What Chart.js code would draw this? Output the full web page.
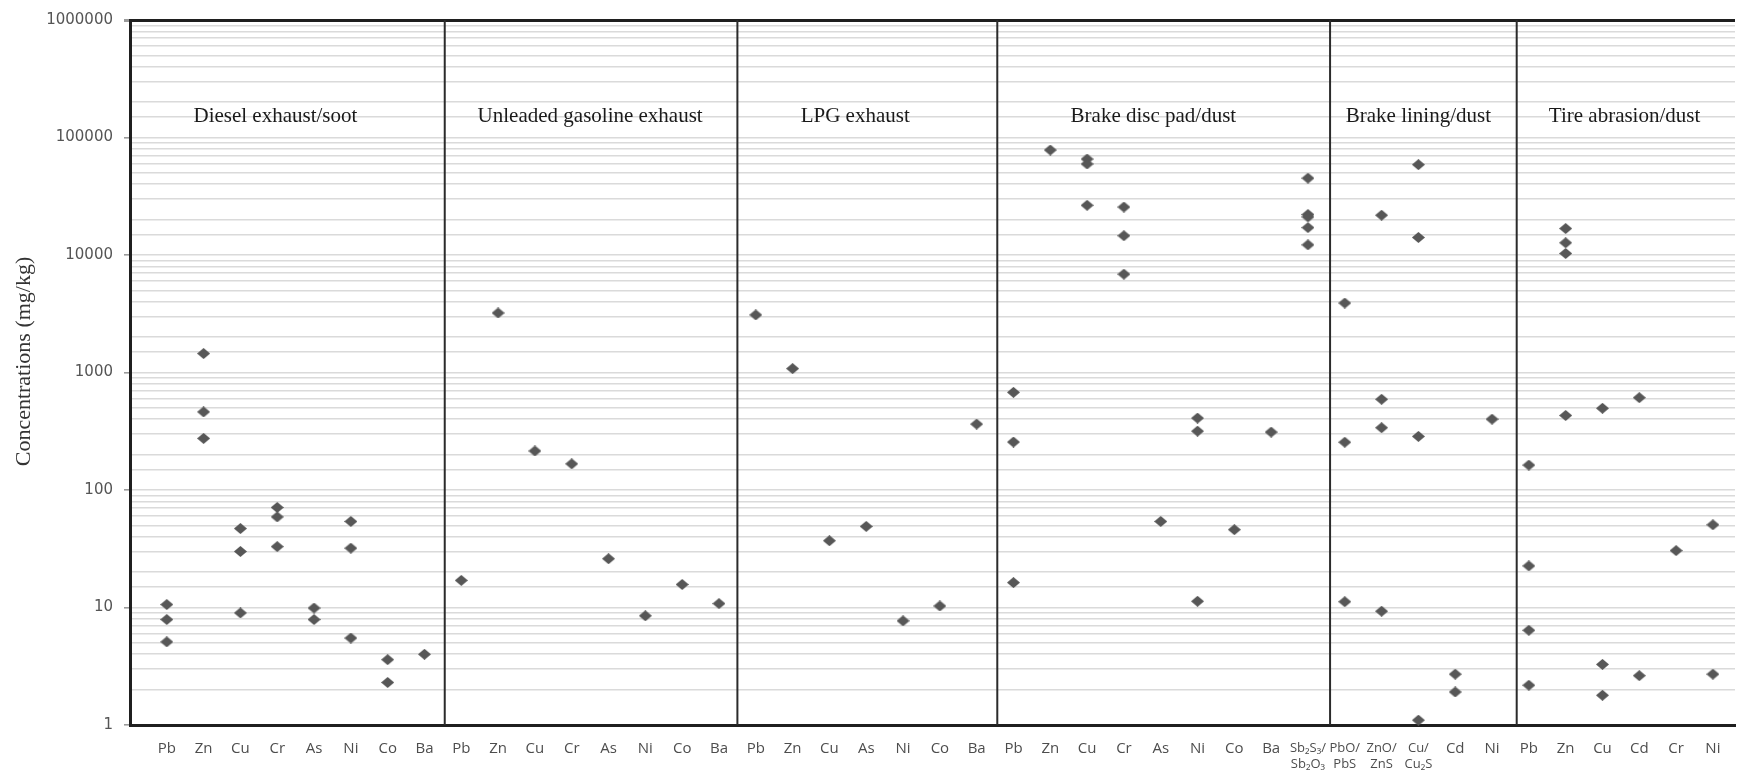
<!DOCTYPE html>
<html>
<head>
<meta charset="utf-8">
<script src="https://cdn.jsdelivr.net/npm/chart.js@4.4.1/dist/chart.umd.min.js"></script>
<style>
  html, body { margin: 0; padding: 0; background: #fff; }
  #wrap { width: 1742px; height: 771px; overflow: hidden; }
</style>
</head>
<body>
<div id="wrap"><canvas id="chartCanvas" width="1742" height="771"></canvas></div>
<script>
// group titles (drawn inside the plot)
const groupNames = ['Diesel exhaust/soot', 'Unleaded gasoline exhaust', 'LPG exhaust',
  'Brake disc pad/dust', 'Brake lining/dust', 'Tire abrasion/dust'];

// element labels + concentrations (mg/kg) per group
const dieselLabels = ['Pb', 'Zn', 'Cu', 'Cr', 'As', 'Ni', 'Co', 'Ba'];
const dieselValues = [[10.6, 7.9, 5.1], [1450, 462, 275], [47, 30, 9.0], [71, 59, 33],
  [9.9, 7.9], [54, 32, 5.5], [3.6, 2.3], [4.0]];

const unleadedLabels = ['Pb', 'Zn', 'Cu', 'Cr', 'As', 'Ni', 'Co', 'Ba'];
const unleadedValues = [[17], [3210], [215], [167], [26], [8.5], [15.7], [10.8]];

const lpgLabels = ['Pb', 'Zn', 'Cu', 'As', 'Ni', 'Co', 'Ba'];
const lpgValues = [[3090], [1080], [37], [49], [7.7], [10.3], [364]];

const brakeDiscLabels = ['Pb', 'Zn', 'Cu', 'Cr', 'As', 'Ni', 'Co', 'Ba', ['Sb₂S₃/', 'Sb₂O₃']];
const brakeDiscValues = [[678, 256, 16.3], [78200], [65600, 59500, 26500], [25600, 14600, 6870],
  [54], [409, 317, 11.3], [46], [311], [45100, 22100, 21100, 17100, 12200]];

const brakeLiningLabels = [['PbO/', 'PbS'], ['ZnO/', 'ZnS'], ['Cu/', 'Cu₂S'], 'Cd', 'Ni'];
const brakeLiningValues = [[3900, 255, 11.2], [21800, 592, 339, 9.3], [58700, 14100, 286, 1.1],
  [2.71, 1.91], [401]];

const tireLabels = ['Pb', 'Zn', 'Cu', 'Cd', 'Cr', 'Ni'];
const tireValues = [[163, 22.6, 6.4, 2.18], [16800, 12700, 10300, 431], [496, 3.28, 1.79],
  [611, 2.63], [30.5], [50.6, 2.71]];

const yTicks = [1, 10, 100, 1000, 10000, 100000, 1000000];

// ---- build from the arrays above ----
const groupLabels = [dieselLabels, unleadedLabels, lpgLabels, brakeDiscLabels, brakeLiningLabels, tireLabels];
const groupValues = [dieselValues, unleadedValues, lpgValues, brakeDiscValues, brakeLiningValues, tireValues];

const allLabels = groupLabels.flat(1);
const points = [];
const groupSpans = [];
let pos = 0;
groupValues.forEach(vals => {
  const start = pos + 1;
  vals.forEach(list => {
    pos++;
    list.forEach(v => points.push({ x: pos, y: v }));
  });
  groupSpans.push([start, pos]);
});

// divider lines sit a little past the half-way point in the figure
const sepNudge = [0.05, 0, 0.06, 0.1, 0.17];
const separators = groupSpans.slice(0, -1).map((s, i) => s[1] + 0.5 + sepNudge[i]);
// title anchors are nudged a bit like in the figure
const titleShift = [-0.55, 0, -0.3, -0.2, 0, 0.1];

// stretched diamond marker
const marker = document.createElement('canvas');
marker.width = 13; marker.height = 11;
(function () {
  const m = marker.getContext('2d');
  m.fillStyle = '#575757';
  m.beginPath();
  m.moveTo(6.5, 0); m.lineTo(13, 5.5); m.lineTo(6.5, 11); m.lineTo(0, 5.5);
  m.closePath(); m.fill();
})();

const datasets = [{
  data: points,
  pointStyle: marker,
  pointRadius: 6,
  clip: false,
  order: 0
}];
separators.forEach(s => datasets.push({
  data: [{ x: s, y: yTicks[0] }, { x: s, y: yTicks[yTicks.length - 1] }],
  showLine: true,
  borderColor: '#2b2b2b',
  borderWidth: 2,
  pointRadius: 0,
  order: 1
}));

const groupTitles = {
  id: 'groupTitles',
  afterDatasetsDraw(chart) {
    const { ctx, scales: { x, y } } = chart;
    ctx.save();
    ctx.font = '21px "Liberation Serif", "Times New Roman", serif';
    ctx.fillStyle = '#1a1a1a';
    ctx.textAlign = 'center';
    ctx.textBaseline = 'middle';
    groupNames.forEach((name, i) => {
      const mid = (groupSpans[i][0] + groupSpans[i][1]) / 2 + titleShift[i];
      ctx.fillText(name, x.getPixelForValue(mid), y.getPixelForValue(152000));
    });
    ctx.restore();
  }
};

const normalFont = { family: 'Open Sans', size: 15, lineHeight: 1.2 };
const smallFont = { family: 'Open Sans', size: 13, lineHeight: 1.23 };

new Chart(document.getElementById('chartCanvas'), {
  type: 'scatter',
  data: { datasets },
  options: {
    responsive: false,
    animation: false,
    layout: { padding: { left: 7, top: 15, right: 0, bottom: 0 } },
    plugins: { legend: { display: false }, tooltip: { enabled: false } },
    scales: {
      x: {
        type: 'linear',
        min: 0,
        max: 43.6,
        grid: { display: false, drawTicks: false },
        border: { display: true, color: '#1f1f1f', width: 3 },
        afterBuildTicks: scale => { scale.ticks = allLabels.map((_, i) => ({ value: i + 1 })); },
        afterFit: scale => { scale.height = 46; },
        ticks: {
          autoSkip: false,
          maxRotation: 0,
          padding: 15,
          color: '#4d4d4d',
          font: ctx => Array.isArray(allLabels[ctx.index]) ? smallFont : normalFont,
          callback: v => allLabels[v - 1]
        }
      },
      y: {
        type: 'logarithmic',
        min: yTicks[0],
        max: yTicks[yTicks.length - 1],
        afterFit: scale => { scale.width = 123; },
        grid: {
          color: ctx => ctx.tick && ctx.tick.value === yTicks[yTicks.length - 1] ? '#1f1f1f' : '#dadada',
          lineWidth: ctx => ctx.tick && ctx.tick.value === yTicks[yTicks.length - 1] ? 3 : 1.6,
          tickLength: 6,
          tickColor: ctx => ctx.tick && yTicks.includes(ctx.tick.value) ? '#9a9a9a' : 'rgba(0,0,0,0)'
        },
        border: { display: true, color: '#1f1f1f', width: 3 },
        title: {
          display: true,
          text: '    Concentrations (mg/kg)',
          color: '#333',
          font: { family: 'Liberation Serif', size: 22 },
          padding: { top: 4, bottom: 4 }
        },
        ticks: {
          autoSkip: false,
          padding: 11,
          color: '#555',
          font: { family: 'DejaVu Sans', size: 15 },
          callback: v => yTicks.includes(v) ? String(v) : ''
        }
      }
    }
  },
  plugins: [groupTitles]
});
</script>
</body>
</html>
